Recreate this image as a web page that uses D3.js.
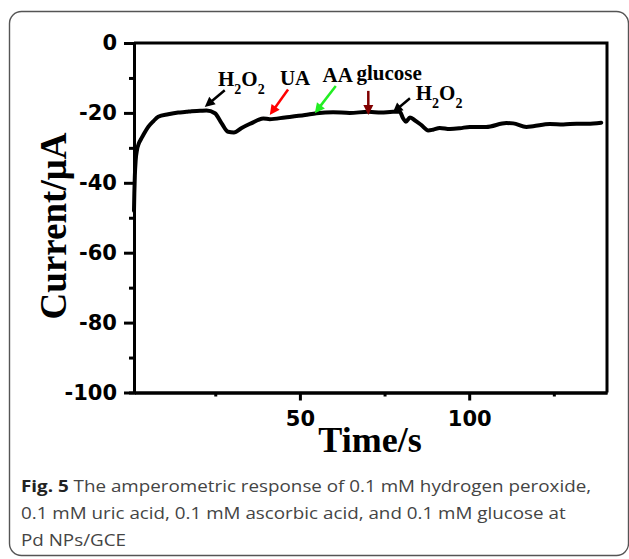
<!DOCTYPE html>
<html>
<head>
<meta charset="utf-8">
<script src="https://cdnjs.cloudflare.com/ajax/libs/d3/7.8.5/d3.min.js"></script>
<style>
  body { margin: 0; background: #fff; }
  svg { display: block; }
</style>
</head>
<body>
<div class="chart"></div>
<script>
// amperometric trace
var time = [1, 1.1, 1.25, 1.5, 1.9, 2.4, 3.0, 3.7, 5.2, 6.7, 8.15, 11.1, 14.05, 16.5, 18, 20.5, 22.4, 24.9,
  26.9, 28.8, 30.5, 32.8, 36.2, 37.7, 39.2, 41.1, 45.6, 51.5, 54.9, 59.8, 64.7, 70.2, 74,
  77.5, 79.5, 80.5, 81.3, 82.5, 83.9, 85.9, 87.9, 89.3, 91.3, 94.3, 97.2, 100.2, 105, 111,
  113, 116.9, 118.9, 123.8, 127.8, 131.7, 135, 139];
var current = [-48, -43, -38, -33.5, -30.5, -28.8, -27.6, -26.4, -24, -22.4, -21.1, -20.4, -19.9, -19.7, -19.5, -19.4, -19.3, -20.1,
  -23, -25.4, -25.6, -24.3, -22.7, -22, -21.6, -21.8, -21.3, -20.6, -20.1, -19.8, -20, -19.7, -19.9,
  -19.7, -19.7, -21.6, -22.5, -21.3, -22.1, -23.5, -25, -24.8, -24.3, -24.6, -24.4, -24, -24, -22.9,
  -23, -24, -23.8, -23.2, -23.3, -23.1, -23.1, -22.8];

var yMajor = [0, -20, -40, -60, -80, -100];
var yMinor = [-10, -30, -50, -70, -90];
var xMajor = [50, 100];
var xMinor = [25, 75, 125];

// injection labels and arrows (data units: tail -> tip)
var labelText = ["H2O2", "UA", "AA", "glucose", "H2O2"];
var labelT = [25.8, 44.1, 56.7, 66.7, 84.2];
var labelI = [-12.3, -11.9, -11.1, -10.6, -16.3];
var arrowColor = ["#000000", "#ff0000", "#22ee22", "#800000", "#000000"];
var arrowTail = [[27.8, -13.5], [46.5, -13.3], [60.6, -12.3], [70.2, -13.7], [82.5, -15.8]];
var arrowTip = [[21.9, -18.3], [41.1, -20.6], [54.4, -20.1], [70.2, -20.6], [77.4, -20]];

var captionLines = [
  " The amperometric response of 0.1 mM hydrogen peroxide,",
  "0.1 mM uric acid, 0.1 mM ascorbic acid, and 0.1 mM glucose at",
  "Pd NPs/GCE"
];

var width = 629, height = 559;
var plot = {left: 134, right: 607, top: 43, bottom: 392.5};

var x = d3.scaleLinear().domain([1, 140.7]).range([plot.left, plot.right]);
var y = d3.scaleLinear().domain([-100, 0]).range([plot.bottom, plot.top]);

var svg = d3.select(".chart").append("svg")
  .attr("width", width)
  .attr("height", height);

// figure frame
svg.append("rect")
  .attr("x", 9.5).attr("y", 11.5)
  .attr("width", 619).attr("height", 544)
  .attr("rx", 12)
  .attr("fill", "none")
  .attr("stroke", "#555")
  .attr("stroke-width", 1.4);

var pts = time.map(function(t, i) { return {t: t, c: current[i]}; });

var line = d3.line()
  .curve(d3.curveMonotoneX)
  .x(function(d) { return x(d.t); })
  .y(function(d) { return y(d.c); });

svg.append("path")
  .datum(pts)
  .attr("d", line)
  .attr("fill", "none")
  .attr("stroke", "#000")
  .attr("stroke-width", 4)
  .attr("stroke-linejoin", "round")
  .attr("stroke-linecap", "round");

// box (top + right)
svg.append("path")
  .attr("d", "M" + plot.left + "," + plot.top + "H" + plot.right + "V" + plot.bottom)
  .attr("fill", "none")
  .attr("stroke", "#000")
  .attr("stroke-width", 3);

function styleAxis(g) {
  g.select(".domain").attr("stroke-width", 3);
  g.selectAll(".tick line").attr("stroke-width", 3);
  g.selectAll("text")
    .attr("font-family", "DejaVu Sans")
    .attr("font-weight", "bold")
    .attr("font-size", 21)
    .attr("fill", "#000");
}

var gYMinor = svg.append("g")
  .attr("transform", "translate(" + plot.left + ",0)")
  .call(d3.axisLeft(y).tickValues(yMinor).tickSize(5).tickFormat(""));
styleAxis(gYMinor);

var gY = svg.append("g")
  .attr("transform", "translate(" + plot.left + ",0)")
  .call(d3.axisLeft(y).tickValues(yMajor).tickSize(10).tickPadding(7)
    .tickSizeOuter(0)
    .tickFormat(function(d) { return String(d); }));
styleAxis(gY);

var gXMinor = svg.append("g")
  .attr("transform", "translate(0," + plot.bottom + ")")
  .call(d3.axisBottom(x).tickValues(xMinor).tickSize(4).tickSizeOuter(0).tickFormat(""));
styleAxis(gXMinor);

var gX = svg.append("g")
  .attr("transform", "translate(0," + plot.bottom + ")")
  .call(d3.axisBottom(x).tickValues(xMajor).tickSize(8).tickPadding(11)
    .tickSizeOuter(0)
    .tickFormat(function(d) { return String(d); }));
styleAxis(gX);

// axis titles
svg.append("text")
  .attr("x", 370).attr("y", 452)
  .attr("text-anchor", "middle")
  .attr("font-family", "Liberation Serif")
  .attr("font-weight", "bold")
  .attr("font-size", 36)
  .text("Time/s");

svg.append("text")
  .attr("transform", "translate(66,226) rotate(-90)")
  .attr("text-anchor", "middle")
  .attr("font-family", "Liberation Serif")
  .attr("font-weight", "bold")
  .attr("font-size", 37)
  .text("Current/\u03bcA");

// annotations
labelText.forEach(function(s, i) {
  var t = svg.append("text")
    .attr("x", x(labelT[i])).attr("y", y(labelI[i]))
    .attr("font-family", "Liberation Serif")
    .attr("font-weight", "bold")
    .attr("font-size", 21)
    .attr("fill", "#000");
  if (s == "H2O2") {
    t.append("tspan").text("H");
    t.append("tspan").attr("font-size", 14).attr("dy", 8).text("2");
    t.append("tspan").attr("dy", -8).text("O");
    t.append("tspan").attr("font-size", 14).attr("dy", 8).text("2");
  } else {
    t.text(s);
  }
});

arrowTail.forEach(function(a, i) {
  var x0 = x(a[0]), y0 = y(a[1]);
  var x1 = x(arrowTip[i][0]), y1 = y(arrowTip[i][1]);
  var dx = x1 - x0, dy = y1 - y0, len = Math.sqrt(dx * dx + dy * dy);
  var ux = dx / len, uy = dy / len;
  var L = 10, W = 5;
  var bx = x1 - ux * L, by = y1 - uy * L;
  svg.append("line")
    .attr("x1", x0).attr("y1", y0).attr("x2", bx + ux).attr("y2", by + uy)
    .attr("stroke", arrowColor[i])
    .attr("stroke-width", 2.5);
  svg.append("polygon")
    .attr("points", [[x1, y1], [bx - uy * W, by + ux * W], [bx + uy * W, by - ux * W]].join(" "))
    .attr("fill", arrowColor[i]);
});

// caption (a wide face, so stretch it a bit)
var cap = svg.append("g")
  .attr("transform", "translate(21,0) scale(1.14,1)")
  .attr("font-family", "Open Sans")
  .attr("font-size", 16.5)
  .attr("fill", "#444");

var l1 = cap.append("text").attr("x", 0).attr("y", 492);
l1.append("tspan").attr("font-weight", "bold").attr("fill", "#222").text("Fig. 5");
l1.append("tspan").text(captionLines[0]);
cap.append("text").attr("x", 0).attr("y", 519).text(captionLines[1]);
cap.append("text").attr("x", 0).attr("y", 546).text(captionLines[2]);
</script>
</body>
</html>
